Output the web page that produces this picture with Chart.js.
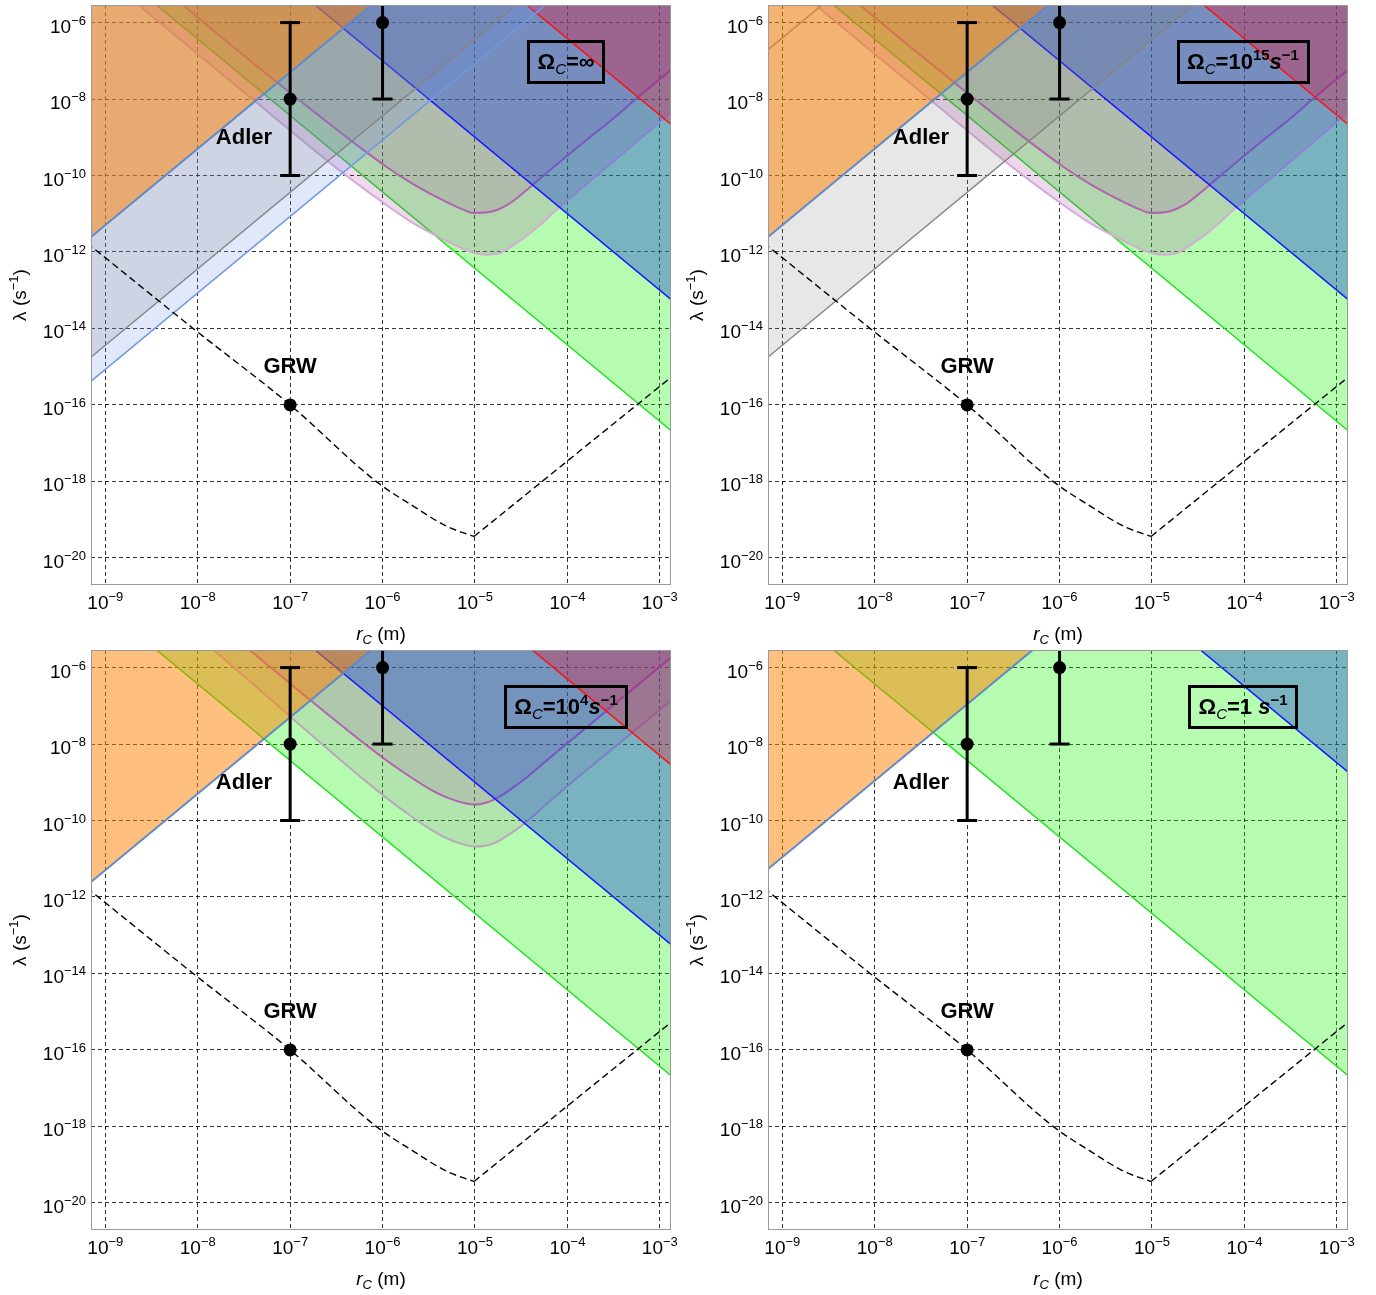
<!DOCTYPE html>
<html>
<head>
<meta charset="utf-8">
<title>Collapse model bounds</title>
<script src="https://cdn.jsdelivr.net/npm/chart.js@4.4.1/dist/chart.umd.min.js"></script>
<style>
  body { margin: 0; background: #fff; }
  #wrap { position: relative; width: 1376px; height: 1295px; }
  #wrap canvas { position: absolute; }
</style>
</head>
<body>
<div id="wrap">
  <canvas id="p1" width="680" height="645" style="left:0;top:0"></canvas>
  <canvas id="p2" width="680" height="645" style="left:677px;top:0"></canvas>
  <canvas id="p3" width="680" height="645" style="left:0;top:645px"></canvas>
  <canvas id="p4" width="680" height="645" style="left:677px;top:645px"></canvas>
</div>
<script>
// every pair is [log10 rC (m), log10 lambda (s^-1)]
const X_TICKS = [-9, -8, -7, -6, -5, -4, -3];
const Y_TICKS = [-20, -18, -16, -14, -12, -10, -8, -6];
const X_LIMITS = [-9.136, -2.879];
const Y_LIMITS = [-20.71, -5.54];

// straight bounds (slope +-2 in log-log)
const GREEN_EDGE = [[-8.50, -5.43], [-2.80, -16.83]];
const BLUE_EDGE = [[-6.80, -5.40], [-2.80, -13.40]];
const RED_EDGE = [[-4.50, -5.42], [-2.80, -8.82]];
const RED_EDGE_1E4 = [[-4.40, -5.50], [-2.80, -8.70]];
const BLUE_EDGE_1 = [[-4.50, -5.49], [-2.80, -8.89]];
const LIGHT_BLUE_EDGE = [[-9.20, -15.47], [-4.20, -5.47]];
const GRAY_EDGE = [[-9.20, -14.84], [-4.50, -5.44]];
const GRAY_TOP_EDGE = [[-9.20, -6.80], [-8.50, -5.40]];
const ORANGE_EDGE = [[-9.20, -11.70], [-6.05, -5.40]];
const ORANGE_EDGE_1 = [[-9.20, -11.36], [-6.20, -5.36]];

// curved bounds
const UPPER_INF = [[-8.25, -5.35], [-8.16, -5.54], [-6.90, -8.03], [-5.96, -9.77], [-5.66, -10.24],
  [-5.48, -10.48], [-5.30, -10.70], [-5.12, -10.90], [-5.01, -10.98], [-4.83, -10.95], [-4.65, -10.77],
  [-4.47, -10.44], [-4.22, -9.92], [-3.86, -9.20], [-3.50, -8.50], [-3.25, -7.98], [-2.87, -7.22], [-2.80, -7.08]];
const LOWER_INF = [[-8.68, -5.45], [-8.50, -5.82], [-7.40, -8.02], [-6.50, -9.80], [-6.00, -10.70],
  [-5.66, -11.26], [-5.30, -11.72], [-5.12, -11.93], [-4.98, -12.04], [-4.87, -12.07], [-4.76, -12.05],
  [-4.51, -11.70], [-4.30, -11.30], [-4.15, -10.97], [-3.86, -10.36], [-3.50, -9.63], [-3.00, -8.60], [-2.80, -8.20]];
const UPPER_1E4 = [[-7.50, -5.42], [-7.44, -5.54], [-6.00, -8.35], [-5.66, -8.92], [-5.48, -9.19],
  [-5.30, -9.40], [-5.12, -9.54], [-4.99, -9.58], [-4.80, -9.46], [-4.51, -9.00], [-4.22, -8.42],
  [-4.04, -8.06], [-3.79, -7.56], [-3.50, -6.98], [-3.14, -6.26], [-2.87, -5.72], [-2.80, -5.58]];
const LOWER_1E4 = [[-7.90, -5.40], [-7.83, -5.54], [-6.00, -9.33], [-5.66, -9.94], [-5.48, -10.23],
  [-5.30, -10.47], [-5.12, -10.63], [-4.99, -10.68], [-4.80, -10.60], [-4.51, -10.16], [-4.22, -9.56],
  [-4.04, -9.18], [-3.50, -8.10], [-2.87, -6.85], [-2.80, -6.71]];

// dashed bound: curved branch down to the kink at 1e-5 m, then straight branch
const DASHED_LEFT = [[-9.20, -11.76], [-8.05, -14.00], [-7.00, -16.00], [-6.07, -18.00], [-5.66, -18.66],
  [-5.30, -19.18], [-5.01, -19.44]];
const DASHED_RIGHT = [[-5.01, -19.44], [-2.87, -15.26], [-2.80, -15.12]];

// [rC, low, high]
const ERROR_BARS = [[-7, -10, -6], [-6, -8, -4]];
const MARKERS = [[-7, -8], [-6, -6], [-7, -16]];
const LABELS = [['Adler', -7.50, -9.18], ['GRW', -7.00, -15.16]];

const FAM = '"Liberation Sans", Arial, Helvetica, sans-serif';
const TICK = `19px ${FAM}`, SUP = `13px ${FAM}`;
const B22 = `bold 22px ${FAM}`, BI22 = `italic bold 22px ${FAM}`;
const SUB = `italic 15px ${FAM}`, BSUP = `bold 15px ${FAM}`;

const STYLE = {
  green:     { line: '#1ee01e', fill: 'rgba(20,245,0,0.31)', w: 1.5 },
  lowerP:    { line: '#d4acd4', fill: 'rgba(160,40,160,0.18)', w: 2, smooth: true },
  lowerG:    { line: '#bba8bb', fill: 'rgba(150,60,150,0.13)', w: 2, smooth: true },
  magenta:   { line: '#b064b0', fill: 'rgba(160,40,160,0.15)', w: 2, smooth: true },
  blue:      { line: '#1818ff', fill: 'rgba(30,70,215,0.4)', w: 1.5 },
  red:       { line: '#ff1010', fill: 'rgba(255,0,30,0.28)', w: 1.5 },
  lightBlue: { line: '#7098e0', fill: 'rgba(100,140,230,0.2)', w: 1.5 },
  gray:      { line: '#858585', fill: 'rgba(120,120,120,0.18)', w: 1.5 },
  grayTop:   { line: '#9a8a8a', fill: null, w: 1.5 },
  orange:    { line: '#5f8ac8', fill: 'rgba(255,128,0,0.5)', w: 2 },
};

const omega = [{ t: 'Ω', f: B22 }, { t: 'C', f: SUB, dy: 5 }];
const PANELS = [
  { id: 'p1',
    layers: [[GREEN_EDGE, 'green'], [LOWER_INF, 'lowerP'], [UPPER_INF, 'magenta'], [BLUE_EDGE, 'blue'],
      [RED_EDGE, 'red'], [LIGHT_BLUE_EDGE, 'lightBlue'], [GRAY_EDGE, 'gray'], [ORANGE_EDGE, 'orange']],
    box: [...omega, { t: '=∞', f: B22 }] },
  { id: 'p2',
    layers: [[GREEN_EDGE, 'green'], [LOWER_INF, 'lowerP'], [UPPER_INF, 'magenta'], [BLUE_EDGE, 'blue'],
      [RED_EDGE, 'red'], [GRAY_EDGE, 'gray'], [GRAY_TOP_EDGE, 'grayTop'], [ORANGE_EDGE, 'orange']],
    box: [...omega, { t: '=10', f: B22 }, { t: '15', f: BSUP, dy: -9 }, { t: 's', f: BI22 }, { t: '−1', f: BSUP, dy: -9 }] },
  { id: 'p3',
    layers: [[GREEN_EDGE, 'green'], [LOWER_1E4, 'lowerG'], [UPPER_1E4, 'magenta'], [BLUE_EDGE, 'blue'],
      [RED_EDGE_1E4, 'red'], [ORANGE_EDGE, 'orange']],
    box: [...omega, { t: '=10', f: B22 }, { t: '4', f: BSUP, dy: -9 }, { t: 's', f: BI22 }, { t: '−1', f: BSUP, dy: -9 }] },
  { id: 'p4',
    layers: [[GREEN_EDGE, 'green'], [BLUE_EDGE_1, 'blue'], [ORANGE_EDGE_1, 'orange']],
    box: [...omega, { t: '=1 ', f: B22 }, { t: 's', f: BI22 }, { t: '−1', f: BSUP, dy: -9 }] },
];

const pt = p => ({ x: 10 ** p[0], y: 10 ** p[1] });

function runsWidth(ctx, runs) {
  return runs.reduce((w, r) => { ctx.font = r.f; return w + ctx.measureText(r.t).width; }, 0);
}
function drawRuns(ctx, runs, x, base) {
  runs.forEach(r => {
    ctx.font = r.f;
    ctx.fillText(r.t, x, base + (r.dy || 0));
    x += ctx.measureText(r.t).width;
  });
}
const pow10 = e => [{ t: '10', f: TICK }, { t: '−' + Math.abs(e), f: SUP, dy: -8 }];

function makeDecor(panel) {
  return {
    id: 'decor',
    afterDraw(chart) {
      const { ctx, chartArea: a, scales: { x, y } } = chart;
      ctx.save();
      ctx.strokeStyle = '#9a9a9a';
      ctx.lineWidth = 1;
      ctx.strokeRect(a.left + 0.5, a.top + 0.5, a.right - a.left - 1, a.bottom - a.top - 1);

      ctx.fillStyle = '#000';
      ctx.textAlign = 'left';
      ctx.textBaseline = 'alphabetic';
      X_TICKS.forEach(e => {
        const runs = pow10(e);
        drawRuns(ctx, runs, x.getPixelForValue(10 ** e) - runsWidth(ctx, runs) / 2, a.bottom + 24);
      });
      Y_TICKS.forEach(e => {
        const runs = pow10(e);
        drawRuns(ctx, runs, a.left - 5 - runsWidth(ctx, runs), y.getPixelForValue(10 ** e) + 10);
      });

      // axis titles
      const xt = [{ t: 'r', f: `italic 19px ${FAM}` }, { t: 'C', f: `italic 13px ${FAM}`, dy: 4 }, { t: ' (m)', f: TICK }];
      drawRuns(ctx, xt, (a.left + a.right) / 2 - runsWidth(ctx, xt) / 2, a.bottom + 55);
      const yt = [{ t: 'λ (s', f: TICK }, { t: '−1', f: SUP, dy: -8 }, { t: ')', f: TICK }];
      ctx.save();
      ctx.translate(26, (a.top + a.bottom) / 2);
      ctx.rotate(-Math.PI / 2);
      drawRuns(ctx, yt, -runsWidth(ctx, yt) / 2, 0);
      ctx.restore();

      // point labels
      ctx.font = B22;
      ctx.textAlign = 'center';
      LABELS.forEach(([t, lx, ly]) => ctx.fillText(t, x.getPixelForValue(10 ** lx), y.getPixelForValue(10 ** ly)));
      ctx.textAlign = 'left';

      // Omega_C box
      const w = runsWidth(ctx, panel.box);
      const cx = a.right - 105;
      ctx.strokeStyle = '#000';
      ctx.lineWidth = 3;
      ctx.strokeRect(Math.round(cx - w / 2 - 9) + 0.5, a.top + 36.5, Math.round(w + 18), 41);
      drawRuns(ctx, panel.box, cx - w / 2, a.top + 64);
      ctx.restore();
    }
  };
}

function makeChart(panel) {
  const datasets = [];
  panel.layers.forEach(([edge, key]) => {
    const s = STYLE[key];
    datasets.push({
      data: edge.map(pt),
      borderColor: s.line,
      borderWidth: s.w,
      backgroundColor: s.fill || 'transparent',
      fill: s.fill ? 'end' : false,
      pointRadius: 0,
      tension: 0,
      cubicInterpolationMode: s.smooth ? 'monotone' : 'default',
    });
  });
  [[DASHED_LEFT, 'monotone'], [DASHED_RIGHT, 'default']].forEach(([arr, mode]) => datasets.push({
    data: arr.map(pt), borderColor: '#000', borderWidth: 1.4, borderDash: [7, 4],
    pointRadius: 0, fill: false, tension: 0, cubicInterpolationMode: mode,
  }));
  ERROR_BARS.forEach(([bx, lo, hi]) => datasets.push({
    data: [pt([bx, lo]), pt([bx, hi])], borderColor: '#000', borderWidth: 3, fill: false,
    pointStyle: 'line', pointRadius: 10, pointBorderWidth: 3, pointBorderColor: '#000',
  }));
  datasets.push({
    data: MARKERS.map(pt), showLine: false, fill: false,
    pointRadius: 6.5, pointBackgroundColor: '#000', pointBorderColor: '#000', pointBorderWidth: 0,
  });
  datasets.forEach((d, i) => { d.order = datasets.length - i; d.clip = 0; });

  const grid = { color: 'rgba(0,0,0,0.8)', lineWidth: 1, drawTicks: false };
  const border = { display: false, dash: [4, 3] };

  new Chart(document.getElementById(panel.id), {
    type: 'line',
    data: { datasets },
    options: {
      responsive: false,
      animation: false,
      devicePixelRatio: 1,
      events: [],
      layout: { autoPadding: false, padding: { left: 0, top: 5, right: 9, bottom: 0 } },
      plugins: { legend: { display: false }, tooltip: { enabled: false } },
      scales: {
        x: {
          type: 'logarithmic', min: 10 ** X_LIMITS[0], max: 10 ** X_LIMITS[1], z: 1,
          afterBuildTicks: s => { s.ticks = X_TICKS.map(e => ({ value: 10 ** e })); },
          afterFit: s => { s.height = 60; },
          ticks: { display: false }, grid, border,
        },
        y: {
          type: 'logarithmic', min: 10 ** Y_LIMITS[0], max: 10 ** Y_LIMITS[1], z: 1,
          afterBuildTicks: s => { s.ticks = Y_TICKS.map(e => ({ value: 10 ** e })); },
          afterFit: s => { s.width = 91; },
          ticks: { display: false }, grid, border,
        },
      },
    },
    plugins: [makeDecor(panel)],
  });
}

PANELS.forEach(makeChart);
</script>
</body>
</html>
